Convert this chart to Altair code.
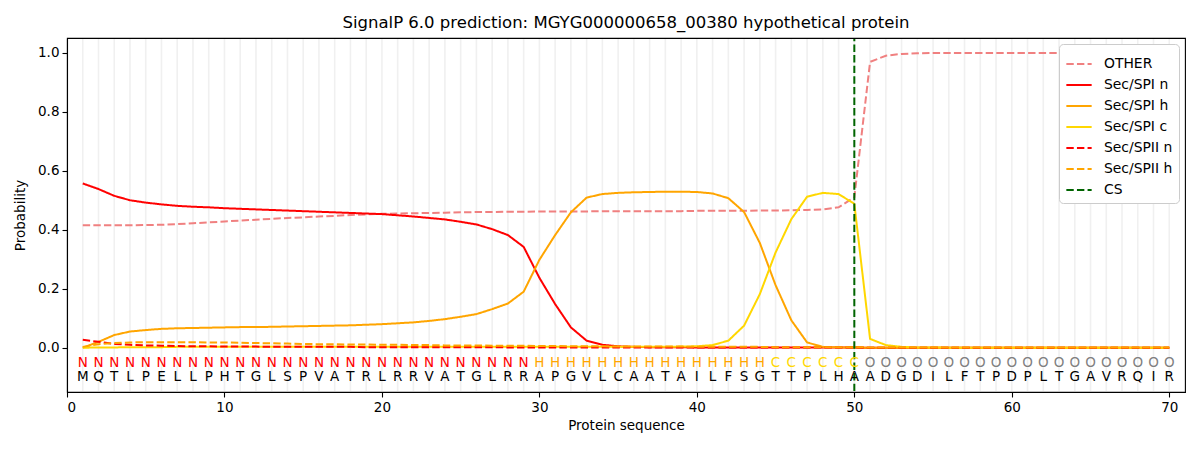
import altair as alt
import pandas as pd

# ---------------- data ----------------
sequence = list("MQTLPELLPHTGLSPVATRLRRVATGLRRAPGVLCAATAILFSGTTPLHAADGDILFTPDPLTGAVRQIR")
labels = list("N" * 29 + "H" * 15 + "C" * 6 + "O" * 20)
positions = list(range(1, 71))

other = [0.415, 0.415, 0.415, 0.415, 0.416, 0.417, 0.419, 0.422, 0.425, 0.428,
         0.431, 0.434, 0.437, 0.440, 0.442, 0.445, 0.447, 0.450, 0.452, 0.454,
         0.455, 0.456, 0.457, 0.458, 0.459, 0.460, 0.460, 0.461, 0.461, 0.462,
         0.462, 0.462, 0.462, 0.463, 0.463, 0.463, 0.463, 0.463, 0.463, 0.464,
         0.464, 0.464, 0.464, 0.465, 0.465, 0.466, 0.467, 0.469, 0.476, 0.510,
         0.969, 0.990, 0.996, 0.998, 0.999, 0.999, 0.999, 0.999, 0.999, 0.999,
         0.999, 0.999, 0.999, 0.999, 0.999, 0.999, 0.999, 0.999, 0.999, 0.999]
spi_n = [0.557, 0.538, 0.515, 0.500, 0.492, 0.486, 0.481, 0.478, 0.476, 0.473,
         0.471, 0.469, 0.467, 0.465, 0.463, 0.461, 0.459, 0.457, 0.455, 0.453,
         0.449, 0.445, 0.440, 0.435, 0.427, 0.418, 0.402, 0.382, 0.342, 0.237,
         0.148, 0.069, 0.024, 0.010, 0.005, 0.003, 0.002, 0.002, 0.002, 0.001,
         0.001, 0.001, 0.001, 0.001, 0.001, 0.001, 0.001, 0.001, 0.001, 0.001,
         0.000, 0.000, 0.000, 0.000, 0.000, 0.000, 0.000, 0.000, 0.000, 0.000,
         0.000, 0.000, 0.000, 0.000, 0.000, 0.000, 0.000, 0.000, 0.000, 0.000]
spi_h = [0.000, 0.020, 0.043, 0.055, 0.060, 0.064, 0.066, 0.067, 0.068, 0.069,
         0.070, 0.070, 0.071, 0.072, 0.073, 0.074, 0.075, 0.076, 0.078, 0.080,
         0.083, 0.086, 0.091, 0.097, 0.105, 0.114, 0.131, 0.150, 0.190, 0.298,
         0.382, 0.459, 0.509, 0.521, 0.525, 0.527, 0.528, 0.529, 0.529, 0.528,
         0.523, 0.507, 0.460, 0.355, 0.212, 0.093, 0.018, 0.003, 0.001, 0.001,
         0.000, 0.000, 0.000, 0.000, 0.000, 0.000, 0.000, 0.000, 0.000, 0.000,
         0.000, 0.000, 0.000, 0.000, 0.000, 0.000, 0.000, 0.000, 0.000, 0.000]
spi_c = [0.000, 0.001, 0.001, 0.002, 0.002, 0.002, 0.003, 0.003, 0.003, 0.003,
         0.003, 0.003, 0.003, 0.003, 0.003, 0.003, 0.003, 0.003, 0.003, 0.003,
         0.003, 0.003, 0.003, 0.003, 0.003, 0.003, 0.003, 0.003, 0.003, 0.003,
         0.003, 0.003, 0.003, 0.003, 0.003, 0.003, 0.003, 0.003, 0.004, 0.005,
         0.009, 0.024, 0.075, 0.182, 0.323, 0.436, 0.512, 0.525, 0.521, 0.488,
         0.030, 0.009, 0.003, 0.001, 0.001, 0.000, 0.000, 0.000, 0.000, 0.000,
         0.000, 0.000, 0.000, 0.000, 0.000, 0.000, 0.000, 0.000, 0.000, 0.000]
spii_n = [0.027, 0.020, 0.013, 0.010, 0.008, 0.007, 0.006, 0.005, 0.005, 0.004,
          0.004, 0.004, 0.003, 0.003, 0.003, 0.003, 0.003, 0.003, 0.002, 0.002,
          0.002, 0.002, 0.002, 0.002, 0.002, 0.002, 0.002, 0.001, 0.001, 0.001,
          0.001, 0.001, 0.001, 0.001, 0.001, 0.001, 0.001, 0.001, 0.001, 0.001,
          0.001, 0.001, 0.001, 0.001, 0.001, 0.001, 0.001, 0.001, 0.001, 0.001,
          0.000, 0.000, 0.000, 0.000, 0.000, 0.000, 0.000, 0.000, 0.000, 0.000,
          0.000, 0.000, 0.000, 0.000, 0.000, 0.000, 0.000, 0.000, 0.000, 0.000]
spii_h = [0.003, 0.012, 0.016, 0.018, 0.019, 0.019, 0.019, 0.019, 0.018, 0.018,
          0.017, 0.016, 0.015, 0.014, 0.013, 0.012, 0.012, 0.011, 0.011, 0.010,
          0.010, 0.009, 0.009, 0.008, 0.008, 0.008, 0.007, 0.007, 0.007, 0.006,
          0.006, 0.005, 0.005, 0.005, 0.004, 0.004, 0.004, 0.004, 0.004, 0.003,
          0.003, 0.003, 0.003, 0.003, 0.002, 0.002, 0.002, 0.002, 0.002, 0.002,
          0.001, 0.001, 0.001, 0.001, 0.001, 0.001, 0.001, 0.001, 0.001, 0.001,
          0.001, 0.001, 0.001, 0.001, 0.001, 0.001, 0.001, 0.001, 0.001, 0.001]
cs_position = [50]

series_names = ["OTHER", "Sec/SPI n", "Sec/SPI h", "Sec/SPI c", "Sec/SPII n", "Sec/SPII h", "CS"]
series_colors = ["#f08080", "#ff0000", "#ffa500", "#ffd700", "#ff0000", "#ffa500", "#006400"]
DASH = [7.4, 3.2]
series_dashes = [DASH, [1, 0], [1, 0], [1, 0], DASH, DASH, DASH]
label_colors = {"N": "#ff0000", "H": "#ffa500", "C": "#ffd700", "O": "#808080"}

# ---------------- tables ----------------
values = {"OTHER": other, "Sec/SPI n": spi_n, "Sec/SPI h": spi_h, "Sec/SPI c": spi_c,
          "Sec/SPII n": spii_n, "Sec/SPII h": spii_h}
rows = []
for name in series_names[:-1]:
    for p, v in zip(positions, values[name]):
        rows.append({"pos": p, "prob": v, "series": name})
lines_df = pd.DataFrame(rows)

letters_df = pd.DataFrame({
    "pos": positions,
    "aa": sequence,
    "lab": labels,
    "labcol": [label_colors[l] for l in labels],
    "y_lab": [-0.05] * 70,
    "y_seq": [-0.1] * 70,
})
cs_df = pd.DataFrame({"pos": cs_position, "series": ["CS"]})
grid_df = pd.DataFrame({"pos": positions})

FONT = "DejaVu Sans"
xscale = alt.Scale(domain=[0, 71], nice=False, zero=False)
yscale = alt.Scale(domain=[-0.15, 1.05], nice=False, zero=False)

color_enc = alt.Color("series:N", scale=alt.Scale(domain=series_names, range=series_colors),
                      legend=alt.Legend(title=None, orient="top-right", offset=6,
                                        symbolType="stroke", symbolSize=640,
                                        symbolStrokeWidth=2, labelFont=FONT,
                                        labelFontSize=13.9, labelColor="black",
                                        rowPadding=0, padding=6,
                                        strokeColor="#cccccc", fillColor="white",
                                        cornerRadius=4, labelOffset=11))
dash_enc = alt.StrokeDash("series:N", scale=alt.Scale(domain=series_names, range=series_dashes),
                          legend=None)

grid = alt.Chart(grid_df).mark_rule(color="#f0f0f0", strokeWidth=1.6).encode(
    x=alt.X("pos:Q", scale=xscale),
    y=alt.datum(-0.147, scale=yscale),
    y2=alt.datum(1.047),
)

lines = alt.Chart(lines_df).mark_line(strokeWidth=2).encode(
    x=alt.X("pos:Q", scale=xscale,
            axis=alt.Axis(title="Protein sequence", values=[0, 10, 20, 30, 40, 50, 60, 70],
                          format="d")),
    y=alt.Y("prob:Q", scale=yscale,
            axis=alt.Axis(title="Probability", values=[0, 0.2, 0.4, 0.6, 0.8, 1.0],
                          format=".1f")),
    color=color_enc,
    strokeDash=dash_enc,
    detail="series:N",
    order="pos:Q",
)

cs_rule = alt.Chart(cs_df).mark_rule(strokeWidth=2).encode(
    x=alt.X("pos:Q", scale=xscale),
    y=alt.datum(-0.147, scale=yscale),
    y2=alt.datum(1.047),
    color=color_enc,
    strokeDash=dash_enc,
)

lab_text = alt.Chart(letters_df).mark_text(font=FONT, fontSize=13.5, baseline="middle").encode(
    x=alt.X("pos:Q", scale=xscale),
    y=alt.Y("y_lab:Q", scale=yscale),
    text="lab:N",
    color=alt.Color("labcol:N", scale=None),
)
seq_text = alt.Chart(letters_df).mark_text(font=FONT, fontSize=13.5, baseline="middle",
                                            color="black").encode(
    x=alt.X("pos:Q", scale=xscale),
    y=alt.Y("y_seq:Q", scale=yscale),
    text="aa:N",
)

chart = alt.layer(grid, lines, cs_rule, lab_text, seq_text).properties(
    width=1118,
    height=354,
    title=alt.Title("SignalP 6.0 prediction: MGYG000000658_00380 hypothetical protein",
                    font=FONT, fontSize=16.5, fontWeight="normal", color="black", offset=6),
    autosize=alt.AutoSizeParams(type="none"),
    padding={"left": 59, "top": 30, "right": 7, "bottom": 50},
).configure_view(
    stroke="black", strokeWidth=1.1
).configure_axis(
    grid=False, domainColor="black", domainWidth=1.1, tickColor="black", tickWidth=1.1,
    tickSize=5, labelFont=FONT, labelFontSize=13.5, labelColor="black", labelPadding=3,
    titleFont=FONT, titleFontSize=13.5, titleFontWeight="normal", titleColor="black",
).configure_axisX(titlePadding=5).configure_axisY(titlePadding=10)

chart.save("out.html", embed_options={"renderer": "svg", "actions": False})
